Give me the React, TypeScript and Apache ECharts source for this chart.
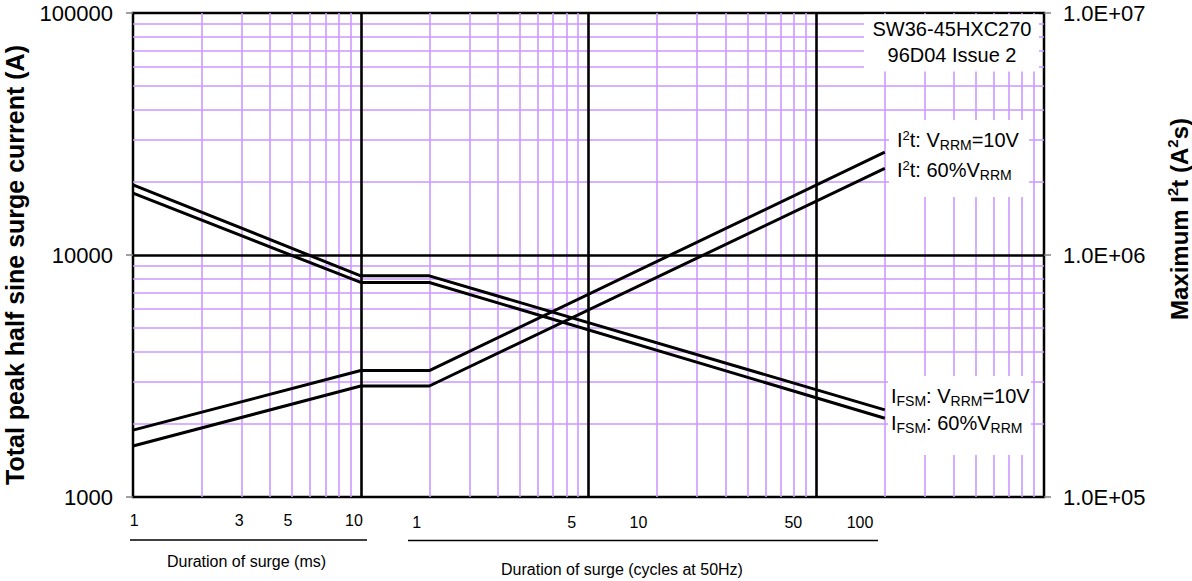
import React, { useEffect, useRef } from "react";
import * as echarts from "echarts";

// ---- data ----
const durationMs = [1, 10, 20, 2000];
const ifsm10V = [19500, 8200, 8200, 2290];
const ifsm60 = [18000, 7700, 7700, 2115];
const i2t10V = [189000, 333000, 333000, 2660000];
const i2t60 = [162500, 287500, 287500, 2280000];

// ---- tick labels ----
const leftTickValues = [1000, 10000, 100000];
const leftTickLabels = ["1000", "10000", "100000"];
const rightTickValues = [1e5, 1e6, 1e7];
const rightTickLabels = ["1.0E+05", "1.0E+06", "1.0E+07"];
const msTickValues = [1, 3, 5, 10];
const msTickLabels = ["1", "3", "5", "10"];
const cycleTickValues = [1, 5, 10, 50, 100];
const cycleTickLabels = ["1", "5", "10", "50", "100"];

// ---- grid structure ----
const xDecades = [1, 10, 100, 1000];
const yDecades = [1000, 10000];
const minorSteps = [2, 3, 4, 5, 6, 7, 8, 9];
const xMajor = [10, 100, 1000];
const yMajor = [10000];

const FONT = '"Liberation Sans", Arial, Helvetica, sans-serif';
const PURPLE = "#cc99ff";

function lookup(values: number[], labels: string[]) {
  return (v: number) => {
    for (let i = 0; i < values.length; i++) {
      if (Math.abs(Math.log10(v) - Math.log10(values[i])) < 1e-6) return labels[i];
    }
    return "";
  };
}

function pairs(xs: number[], ys: number[]) {
  return xs.map((x, i) => [x, ys[i]]);
}

const dataLine = (name: string, ys: number[], yAxisIndex: number) => ({
  name,
  type: "line",
  xAxisIndex: 0,
  yAxisIndex,
  data: pairs(durationMs, ys),
  symbol: "none",
  showSymbol: false,
  silent: true,
  z: 5,
  lineStyle: { color: "#000", width: 3 },
  emphasis: { disabled: true },
});

const hiddenLine = { width: 0, opacity: 0 };

export default function App() {
  const ref = useRef<HTMLDivElement>(null);

  useEffect(() => {
    const el = ref.current!;
    const chart = echarts.init(el, null, { renderer: "svg" });

    const minorX: any[] = [];
    xDecades.forEach((d) => minorSteps.forEach((m) => minorX.push({ xAxis: d * m })));
    const minorY: any[] = [];
    yDecades.forEach((d) => minorSteps.forEach((m) => minorY.push({ yAxis: d * m })));

    const option: any = {
      animation: false,
      backgroundColor: "#fff",
      grid: {
        left: 133,
        right: 148,
        top: 13,
        bottom: 84,
        show: true,
        borderColor: "#000",
        borderWidth: 2.5,
        backgroundColor: "#fff",
        containLabel: false,
        outerBoundsMode: "none",
      },
      xAxis: [
        {
          type: "log",
          logBase: 10,
          min: 1,
          max: 10000,
          axisLine: { show: false },
          axisTick: { show: false },
          axisLabel: { show: false },
          splitLine: { show: false },
        },
        { type: "log", logBase: 10, min: 0.9865, max: 13826, show: false },
        { type: "log", logBase: 10, min: 0.05248, max: 676, show: false },
      ],
      yAxis: [
        {
          type: "log",
          logBase: 10,
          min: 1000,
          max: 100000,
          position: "left",
          axisLine: { show: false },
          axisTick: { show: true, inside: false, length: 7, lineStyle: { color: "#808080", width: 1.5 } },
          axisLabel: {
            show: true,
            fontSize: 22,
            fontFamily: FONT,
            color: "#000",
            margin: 20,
            showMinLabel: true,
            showMaxLabel: true,
            formatter: lookup(leftTickValues, leftTickLabels),
          },
          splitLine: { show: false },
        },
        {
          type: "log",
          logBase: 10,
          min: 1e5,
          max: 1e7,
          position: "right",
          axisLine: { show: false },
          axisTick: { show: true, inside: false, length: 7, lineStyle: { color: "#808080", width: 1.5 } },
          axisLabel: {
            show: true,
            fontSize: 22,
            fontFamily: FONT,
            color: "#000",
            margin: 19,
            showMinLabel: true,
            showMaxLabel: true,
            formatter: lookup(rightTickValues, rightTickLabels),
          },
          splitLine: { show: false },
        },
      ],
      series: [
        {
          name: "minorGrid",
          type: "line",
          xAxisIndex: 0,
          yAxisIndex: 0,
          data: [[1, 1000]],
          symbol: "none",
          showSymbol: false,
          silent: true,
          z: 1,
          lineStyle: hiddenLine,
          markLine: {
            silent: true,
            symbol: ["none", "none"],
            label: { show: false },
            emphasis: { disabled: true },
            lineStyle: { color: PURPLE, width: 1.6, type: "solid" },
            data: [...minorX, ...minorY],
          },
        },
        {
          name: "majorGrid",
          type: "line",
          xAxisIndex: 0,
          yAxisIndex: 0,
          data: [[1, 1000]],
          symbol: "none",
          showSymbol: false,
          silent: true,
          z: 2,
          lineStyle: hiddenLine,
          markLine: {
            silent: true,
            symbol: ["none", "none"],
            label: { show: false },
            emphasis: { disabled: true },
            lineStyle: { color: "#000", width: 2.6, type: "solid" },
            data: [...xMajor.map((v) => ({ xAxis: v })), ...yMajor.map((v) => ({ yAxis: v }))],
          },
        },
        dataLine("IFSM: VRRM=10V", ifsm10V, 0),
        dataLine("IFSM: 60%VRRM", ifsm60, 0),
        dataLine("I2t: VRRM=10V", i2t10V, 1),
        dataLine("I2t: 60%VRRM", i2t60, 1),
      ],
    };

    chart.setOption(option);

    const px = (axis: number, v: number) => chart.convertToPixel({ xAxisIndex: axis } as any, v) as unknown as number;

    const baseRich = {
      b: { fontSize: 20, lineHeight: 23, fontFamily: FONT, fill: "#000" },
      sup: { fontSize: 13, lineHeight: 13, fontFamily: FONT, verticalAlign: "top", fill: "#000" },
      sub: { fontSize: 14, lineHeight: 12, fontFamily: FONT, verticalAlign: "bottom", fill: "#000" },
    };

    const richText = (x: number, y: number, text: string) => ({
      type: "text",
      x,
      y,
      z: 60,
      silent: true,
      style: { text, rich: baseRich, align: "left", verticalAlign: "middle", fill: "#000" },
    });

    const plainText = (x: number, y: number, text: string, size: number, weight = "normal", rotation = 0) => ({
      type: "text",
      x,
      y,
      rotation,
      z: 60,
      silent: true,
      style: {
        text,
        fontSize: size,
        fontFamily: FONT,
        fontWeight: weight,
        fill: "#000",
        align: "center",
        verticalAlign: "middle",
      },
    });

    const whiteBox = (x: number, y: number, w: number, h: number) => ({
      type: "rect",
      z: 50,
      silent: true,
      shape: { x, y, width: w, height: h },
      style: { fill: "#fff", stroke: null },
    });

    const graphics: any[] = [
      whiteBox(864, 14.5, 175, 57),
      plainText(952, 29, "SW36-45HXC270", 20),
      plainText(952, 55, "96D04 Issue 2", 20),
      whiteBox(889, 120, 140, 77),
      richText(897, 140, "{b|I}{sup|2}{b|t: V}{sub|RRM}{b|=10V}"),
      richText(897, 170, "{b|I}{sup|2}{b|t: 60%V}{sub|RRM}"),
      whiteBox(888, 376, 143, 79),
      richText(891, 396, "{b|I}{sub|FSM}{b|: V}{sub|RRM}{b|=10V}"),
      richText(891, 423, "{b|I}{sub|FSM}{b|: 60%V}{sub|RRM}"),
    ];

    msTickValues.forEach((v, i) => graphics.push(plainText(px(1, v), 520.5, msTickLabels[i], 16)));
    cycleTickValues.forEach((v, i) => graphics.push(plainText(px(2, v), 522.5, cycleTickLabels[i], 16)));

    graphics.push({
      type: "line",
      z: 60,
      silent: true,
      shape: { x1: 130, y1: 540, x2: 367, y2: 540 },
      style: { stroke: "#000", lineWidth: 1.4 },
    });
    graphics.push({
      type: "line",
      z: 60,
      silent: true,
      shape: { x1: 408, y1: 540.5, x2: 878, y2: 540.5 },
      style: { stroke: "#000", lineWidth: 1.4 },
    });
    graphics.push(plainText(246.5, 561, "Duration of surge (ms)", 16));
    graphics.push(plainText(622, 569, "Duration of surge (cycles at 50Hz)", 16));

    graphics.push(plainText(15, 265, "Total peak half sine surge current (A)", 25, "bold", Math.PI / 2));
    graphics.push({
      type: "text",
      x: 1179,
      y: 219,
      rotation: Math.PI / 2,
      z: 60,
      silent: true,
      style: {
        text: "{b|Maximum I}{sup|2}{b|t (A}{sup|2}{b|s)}",
        align: "center",
        verticalAlign: "middle",
        rich: {
          b: { fontSize: 24, fontWeight: "bold", lineHeight: 28, fontFamily: FONT, fill: "#000" },
          sup: { fontSize: 15, fontWeight: "bold", lineHeight: 15, fontFamily: FONT, verticalAlign: "top", fill: "#000" },
        },
      },
    });

    chart.setOption({ graphic: graphics });

    return () => chart.dispose();
  }, []);

  return (
    <div
      ref={ref}
      style={{ position: "absolute", left: 0, top: 0, width: 1192, height: 581, background: "#fff" }}
    />
  );
}
